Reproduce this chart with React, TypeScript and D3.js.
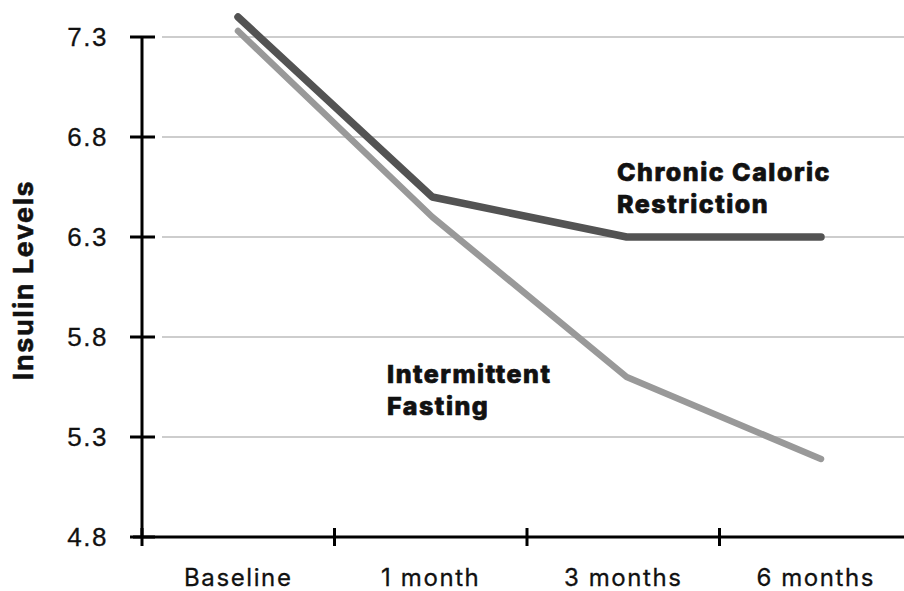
import React from "react";
import * as d3 from "d3";

const categories = ["Baseline", "1 month", "3 months", "6 months"];
const chronicValues = [7.4, 6.5, 6.3, 6.3];
const fastingValues = [7.33, 6.4, 5.6, 5.19];
const yTicks = [4.8, 5.3, 5.8, 6.3, 6.8, 7.3];

const W = 904;
const H = 591;

export default function App() {
  const y = d3.scaleLinear().domain([4.8, 7.3]).range([537, 37]);
  const xBand = d3.scaleBand().domain(categories).range([142, 912]);
  const xPt = d3.scalePoint().domain(categories).range([238, 821]);

  const line = d3
    .line<number>()
    .x((_, i) => xPt(categories[i]) as number)
    .y((d) => y(d));

  const tickFont = "'Liberation Sans', Arial, sans-serif";
  const font = "Inter, 'Open Sans', sans-serif";

  return (
    <svg width={W} height={H} style={{ display: "block", background: "#fff" }}>
      <style>{`body{margin:0}`}</style>
      <rect x={0} y={0} width={W} height={H} fill="#fff" />
      {yTicks.slice(1).map((t) => (
        <line key={"g" + t} x1={162} x2={W} y1={y(t)} y2={y(t)} stroke="#bdbdbd" strokeWidth={1.5} />
      ))}
      <line x1={142} x2={142} y1={y(7.3)} y2={y(4.8)} stroke="#000" strokeWidth={3} />
      {yTicks.map((t) => (
        <g key={"t" + t}>
          <line x1={130} x2={155} y1={y(t)} y2={y(t)} stroke="#000" strokeWidth={3} />
          <text
            x={108}
            y={y(t) + 9}
            textAnchor="end"
            fontFamily={tickFont}
            fontSize={26}
            letterSpacing={1.5}
            fill="#111"
            stroke="#111"
            strokeWidth={0.3}
          >
            {t.toFixed(1)}
          </text>
        </g>
      ))}
      <line x1={133} x2={W} y1={y(4.8)} y2={y(4.8)} stroke="#000" strokeWidth={3} />
      {categories.map((c) => (
        <g key={c}>
          <line
            x1={xBand(c) as number}
            x2={xBand(c) as number}
            y1={y(4.8) - 9}
            y2={y(4.8) + 9}
            stroke="#000"
            strokeWidth={3}
          />
          <text
            x={(xBand(c) as number) + xBand.bandwidth() / 2}
            y={586}
            textAnchor="middle"
            fontFamily={font}
            fontSize={24}
            letterSpacing={1.6}
            fill="#111"
            stroke="#111"
            strokeWidth={0.3}
          >
            {c}
          </text>
        </g>
      ))}
      <text
        transform={`translate(33,${280}) rotate(-90)`}
        textAnchor="middle"
        fontFamily={font}
        fontWeight={700}
        fontSize={27}
        letterSpacing={1.5}
        fill="#111"
        stroke="#111"
        strokeWidth={0.5}
      >
        Insulin Levels
      </text>
      <path d={line(fastingValues) || ""} fill="none" stroke="#999999" strokeWidth={6.5} strokeLinecap="round" strokeLinejoin="round" />
      <path d={line(chronicValues) || ""} fill="none" stroke="#535353" strokeWidth={7.5} strokeLinecap="round" strokeLinejoin="round" />
      <text fontFamily={font} fontWeight={800} fontSize={25} letterSpacing={1.5} fill="#111" stroke="#111" strokeWidth={0.7}>
        <tspan x={617} y={181}>Chronic Caloric</tspan>
        <tspan x={617} y={213}>Restriction</tspan>
      </text>
      <text fontFamily={font} fontWeight={800} fontSize={25} letterSpacing={1.5} fill="#111" stroke="#111" strokeWidth={0.7}>
        <tspan x={387} y={383}>Intermittent</tspan>
        <tspan x={387} y={415}>Fasting</tspan>
      </text>
    </svg>
  );
}
